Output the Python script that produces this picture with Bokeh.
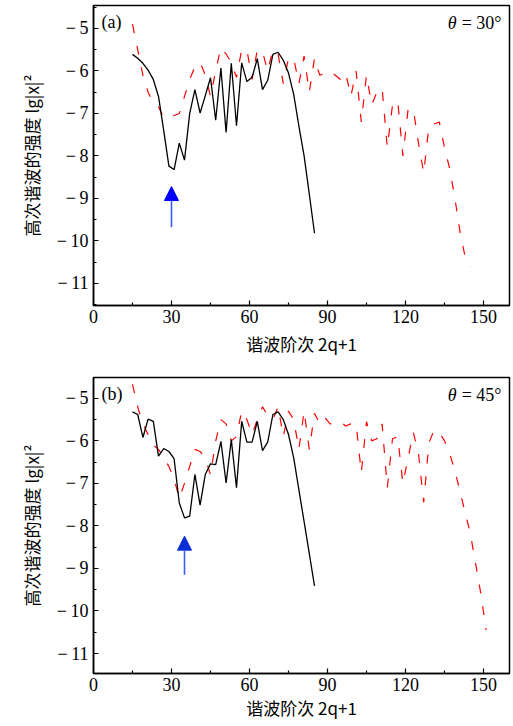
from bokeh.plotting import figure
from bokeh.layouts import column
from bokeh.models import FixedTicker, Arrow, NormalHead, Label
from bokeh.embed import file_html
from bokeh.resources import INLINE

# ---------------- data ----------------
harm_black = [15, 17, 19, 21, 23, 25, 27, 29, 31, 33, 35, 37, 39, 41, 43, 45, 47, 49,
              51, 53, 55, 57, 59, 61, 63, 65, 67, 69, 71, 73, 75, 77, 79, 81, 83, 85]

black_a = [-5.61, -5.70, -5.82, -5.98, -6.20, -6.60, -7.40, -8.24, -8.32, -7.70, -8.10, -7.00,
           -6.44, -6.99, -6.58, -6.16, -7.16, -5.93, -7.45, -5.82, -7.29, -5.81, -6.25, -6.15,
           -5.71, -6.44, -6.22, -5.61, -5.56, -5.75, -6.05, -6.55, -7.30, -8.00, -8.90, -9.82]

black_b = [-5.32, -5.38, -5.92, -5.49, -5.54, -6.36, -6.18, -6.25, -6.42, -7.46, -7.81, -7.77,
           -6.79, -7.51, -6.79, -6.54, -6.56, -6.01, -6.99, -5.97, -7.10, -5.54, -6.03, -6.03,
           -5.54, -6.23, -6.03, -5.38, -5.32, -5.50, -5.85, -6.40, -7.15, -7.90, -8.65, -9.41]

harm_red_a = [15, 17, 19, 21, 23, 25, 27, 29, 31, 33, 35, 37, 39, 41, 43, 45, 47, 49, 51, 53,
              55, 57, 59, 61, 63, 65, 67, 69, 71, 73, 75, 77, 79, 81, 83, 85, 87, 89, 91, 93,
              95, 97, 99, 101, 103, 105, 107, 109, 111, 113, 115, 117, 119, 121, 123, 125, 127,
              129, 131, 133, 135, 137, 139, 141, 143, 145]

red_a = [-4.90, -5.50, -6.10, -6.50, -6.75, -6.85, -7.10, -7.10, -7.05, -7.00, -6.60, -6.20,
         -5.90, -5.80, -6.10, -6.60, -6.00, -5.45, -5.60, -5.80, -6.15, -5.50, -5.50, -6.20,
         -5.50, -5.55, -6.00, -5.50, -5.60, -6.30, -5.70, -5.70, -6.30, -5.65, -6.50, -5.70,
         -6.10, -6.05, -6.00, -6.10, -6.20, -6.05, -6.60, -6.00, -7.20, -6.10, -6.80, -6.50,
         -6.40, -7.80, -6.80, -6.70, -8.00, -6.90, -6.90, -7.70, -8.40, -7.30, -7.25, -7.20,
         -7.80, -8.30, -9.00, -9.80, -10.40, -10.60]

harm_red_b = [15, 17, 19, 21, 23, 25, 27, 29, 31, 33, 35, 37, 39, 41, 43, 45, 47, 49, 51, 53,
              55, 57, 59, 61, 63, 65, 67, 69, 71, 73, 75, 77, 79, 81, 83, 85, 87, 89, 91, 93,
              95, 97, 99, 101, 103, 105, 107, 109, 111, 113, 115, 117, 119, 121, 123, 125, 127,
              129, 131, 133, 135, 137, 139, 141, 143, 145, 147, 149, 151]

red_b = [-4.67, -5.20, -5.60, -5.85, -6.10, -6.20, -6.40, -6.60, -6.90, -7.35, -7.00, -6.60,
         -6.20, -6.25, -6.40, -6.80, -6.00, -5.50, -5.60, -6.00, -5.90, -5.30, -5.50, -5.85,
         -5.50, -5.20, -5.40, -5.50, -5.20, -5.90, -5.30, -5.50, -6.20, -5.30, -6.20, -5.35,
         -5.60, -5.45, -5.60, -5.60, -5.55, -5.65, -5.60, -5.60, -6.75, -5.55, -6.00, -5.95,
         -5.60, -7.10, -5.95, -5.90, -7.00, -6.40, -5.80, -6.30, -7.45, -6.05, -5.75, -5.80,
         -6.00, -6.30, -6.70, -7.20, -7.70, -8.20, -8.90, -9.60, -10.45]

x_ticks = [0, 30, 60, 90, 120, 150]
x_minor = [15, 45, 75, 105, 135]
y_ticks = [-11, -10, -9, -8, -7, -6, -5]
y_minor = [-11.5, -10.5, -9.5, -8.5, -7.5, -6.5, -5.5, -4.5]
y_tick_labels = {-11: "−\u200911", -10: "−\u200910", -9: "−\u20099", -8: "−\u20098",
                 -7: "−\u20097", -6: "−\u20096", -5: "−\u20095"}

panel_tags = ["(a)", "(b)"]
panel_theta = ["= 30°", "= 45°"]
panel_yrange = [(-11.52, -4.46), (-11.47, -4.51)]
arrow_x = [30, 35]
arrow_tail = [-9.68, -9.15]
arrow_tip = [-8.72, -8.24]
arrow_colors = ["#0000ff", "#0a2ed6"]

SERIF = "Liberation Serif"
CJK = "Noto Sans CJK SC"


def make_panel(i, black_y, red_x, red_y, height, top, bottom, title_standoff):
    y0, y1 = panel_yrange[i]
    p = figure(width=513, height=height, x_range=(0, 160), y_range=(y0, y1),
               output_backend="svg", toolbar_location=None,
               min_border_left=93, min_border_right=4,
               min_border_top=top, min_border_bottom=bottom)
    p.grid.visible = False
    p.outline_line_color = "black"
    p.outline_line_width = 1.5
    p.background_fill_color = "white"

    p.line(red_x, red_y, color="#ff0000", line_width=1.2, line_dash="9 13")
    p.line(harm_black, black_y, color="black", line_width=1.3)

    p.add_layout(Arrow(end=NormalHead(size=14, fill_color=arrow_colors[i],
                                      line_color=arrow_colors[i]),
                       x_start=arrow_x[i], y_start=arrow_tail[i],
                       x_end=arrow_x[i], y_end=arrow_tip[i],
                       line_color="#3a5cff", line_width=1.6))

    p.xaxis.ticker = FixedTicker(ticks=x_ticks, minor_ticks=x_minor)
    p.yaxis.ticker = FixedTicker(ticks=y_ticks, minor_ticks=y_minor)
    p.yaxis.major_label_overrides = y_tick_labels

    p.axis.major_tick_in = 5
    p.axis.major_tick_out = 0
    p.axis.minor_tick_in = 3
    p.axis.minor_tick_out = 0
    p.axis.axis_line_width = 1.5
    p.axis.major_tick_line_width = 1.2
    p.axis.minor_tick_line_width = 1.2
    p.axis.major_label_text_font = SERIF
    p.axis.major_label_text_font_style = "normal"
    p.axis.major_label_text_font_size = "18px"
    p.axis.major_label_text_color = "black"
    p.axis.axis_label_text_font = CJK
    p.axis.axis_label_text_font_style = "normal"
    p.axis.axis_label_text_font_size = "17px"
    p.axis.axis_label_text_color = "black"

    p.xaxis.major_label_standoff = 4
    p.xaxis.axis_label_standoff = title_standoff
    p.yaxis.major_label_standoff = 5
    p.yaxis.axis_label_standoff = 10
    p.xaxis.axis_label = "谐波阶次 2q+1"
    p.yaxis.axis_label = "高次谐波的强度 lg|x|²"

    p.add_layout(Label(x=0, y=y1, x_offset=8, y_offset=-6, text=panel_tags[i],
                       text_font=SERIF, text_font_size="18px", text_baseline="top",
                       text_align="left", text_color="black"))
    p.add_layout(Label(x=160, y=y1, x_offset=-8, y_offset=-7, text=panel_theta[i],
                       text_font=SERIF, text_font_size="18px", text_baseline="top",
                       text_align="right", text_color="black"))
    p.add_layout(Label(x=160, y=y1, x_offset=-53, y_offset=-7, text="θ",
                       text_font=SERIF, text_font_style="italic", text_font_size="18px",
                       text_baseline="top", text_align="right", text_color="black"))
    return p


pa = make_panel(0, black_a, harm_red_a, red_a, height=367, top=5, bottom=62, title_standoff=5)
pb = make_panel(1, black_b, harm_red_b, red_b, height=359, top=10, bottom=53, title_standoff=1)

layout = column(pa, pb, spacing=0)
open("out.html", "w").write(file_html(layout, INLINE))
